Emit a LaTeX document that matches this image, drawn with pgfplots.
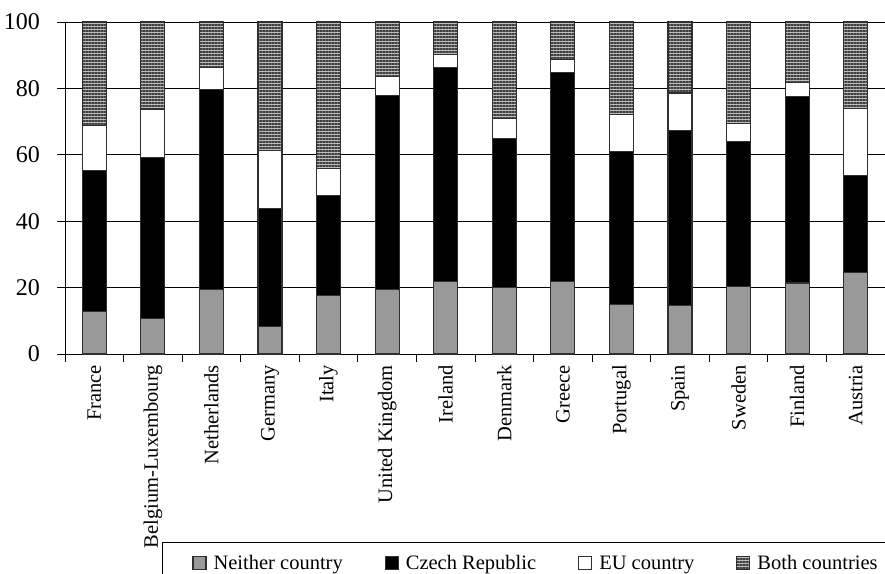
\documentclass[border=0pt]{standalone}
\usepackage{fontspec}
\setmainfont{Liberation Serif}
\usepackage{pgfplots}
\usepackage{pgfplotstable}
\pgfplotsset{compat=1.18}
\usetikzlibrary{patterns.meta}
\definecolor{neither}{HTML}{999999}
\definecolor{edge}{HTML}{303030}
\definecolor{stripebg}{HTML}{BDBDBD}
\definecolor{stripe}{HTML}{404040}

\pgfplotstableread{
x    nei   cze   eu    both
0.5  12.7  42.7  13.3  31.3
1.5  10.6  48.7  14.5  26.2
2.5  19.5  60.2  6.6   13.7
3.5  8.4   35.5  17.5  38.6
4.5  17.7  30.0  8.1   44.2
5.5  19.5  58.4  5.7   16.4
6.5  21.8  64.4  4.0   9.8
7.5  20.0  44.9  6.1   29.0
8.5  21.8  62.9  4.0   11.3
9.5  14.9  46.2  11.0  27.9
10.5 14.5  52.7  11.4  21.4
11.5 20.4  43.5  5.4   30.7
12.5 21.4  56.1  4.3   18.2
13.5 24.6  29.2  20.1  26.1
}\datatable

\begin{document}
\begin{tikzpicture}
\begin{axis}[
  name=ax,
  scale only axis,
  width=820bp, height=332bp,
  ybar stacked,
  bar width=24bp,
  xmin=0, xmax=14,
  ymin=0, ymax=100,
  axis x line*=bottom,
  axis y line*=left,
  axis line style={black, line width=0.9bp},
  ytick={0,20,40,60,80,100},
  yticklabels={0,20,40,60,80,100},
  ymajorgrids,
  grid style={black, line width=0.8bp},
  xtick={0.5,1.5,...,13.5},
  xticklabels={France,Belgium-Luxembourg,Netherlands,Germany,Italy,United Kingdom,Ireland,Denmark,Greece,Portugal,Spain,Sweden,Finland,Austria},
  minor xtick={0,1,...,14},
  major x tick style={draw=none},
  minor x tick style={black, line width=0.8bp},
  y tick style={black, line width=0.8bp},
  tick align=outside,
  major tick length=8bp,
  minor tick length=8bp,
  /pgf/number format/assume math mode=true,
  y tick label style={font=\fontsize{24bp}{28bp}\selectfont, anchor=east, inner sep=0pt, xshift=-17bp},
  xticklabel style={font=\fontsize{20.5bp}{24bp}\selectfont, rotate=90, anchor=east, inner sep=0pt},
  xticklabel shift=3bp,
  legend columns=4,
  legend image code/.code={\draw[#1] (0bp,0bp) rectangle (13bp,13bp);},
  legend style={at={(0.1183,-0.566)}, anchor=north west, draw=black, line width=0.9bp,
    inner xsep=30bp, inner ysep=11bp,
    font=\fontsize{20.5bp}{24bp}\selectfont,
    cells={anchor=base west, inner xsep=0pt, inner ysep=0pt},
    /tikz/every odd column/.append style={column sep=5bp},
    /tikz/every even column/.append style={column sep=40bp}},
]
\addplot[fill=neither, draw=edge, line width=1.1bp] table[x=x, y=nei] {\datatable};
\addlegendentry{Neither country}
\addplot[fill=black, draw=edge, line width=1.1bp] table[x=x, y=cze] {\datatable};
\addlegendentry{Czech Republic}
\addplot[fill=white, draw=edge, line width=1.1bp] table[x=x, y=eu] {\datatable};
\addlegendentry{EU country}
\addplot[fill=stripebg, draw=edge, line width=1.1bp,
  postaction={pattern={Lines[angle=0,distance=3bp,line width=1.2bp]}, pattern color=stripe}] table[x=x, y=both] {\datatable};
\addlegendentry{Both countries}
\end{axis}
\pgfresetboundingbox
\path[use as bounding box] ([xshift=-65bp,yshift=-220bp]ax.south west) rectangle ([yshift=22bp]ax.north east);
\end{tikzpicture}
\end{document}
